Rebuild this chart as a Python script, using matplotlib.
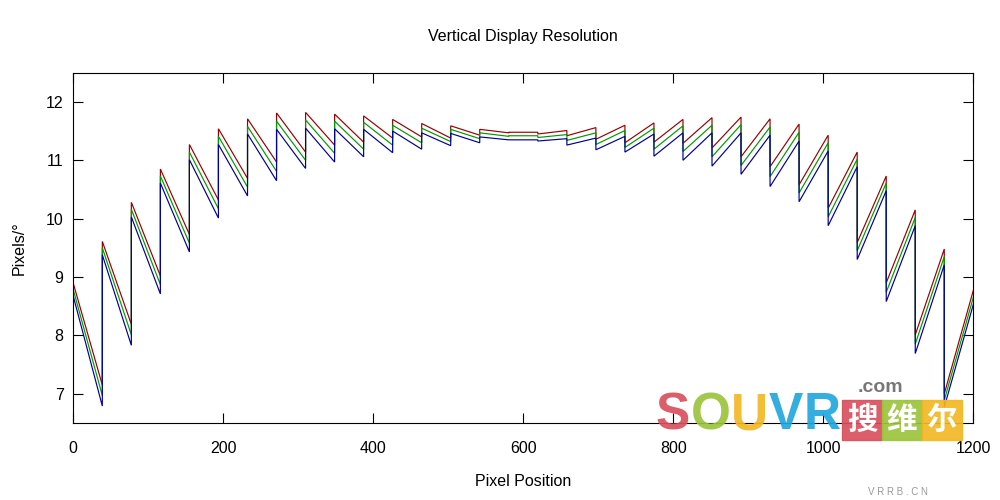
import matplotlib
matplotlib.use("Agg")
import matplotlib.pyplot as plt
from matplotlib.patches import Rectangle

# ---- data ----
edges = [0, 38.7, 77.4, 116.1, 154.8, 193.5, 232.3, 271.0, 309.7, 348.4, 387.1,
         425.8, 464.5, 503.2, 541.9, 580.6, 619.4, 658.1, 696.8, 735.5, 774.2,
         812.9, 851.6, 890.3, 929.0, 967.7, 1006.5, 1045.2, 1083.9, 1122.6, 1161.3, 1200]

red_start = [8.89, 9.61, 10.28, 10.85, 11.27, 11.54, 11.71, 11.81, 11.82, 11.79, 11.76,
             11.70, 11.63, 11.59, 11.53, 11.48, 11.45, 11.42, 11.36, 11.30, 11.31,
             11.29, 11.21, 11.06, 10.89, 10.58, 10.18, 9.59, 8.90, 8.01, 7.00]
red_end = [7.15, 8.19, 9.02, 9.73, 10.32, 10.69, 10.97, 11.14, 11.26, 11.31, 11.38,
           11.40, 11.38, 11.43, 11.47, 11.48, 11.51, 11.56, 11.60, 11.64, 11.70,
           11.73, 11.74, 11.71, 11.62, 11.43, 11.14, 10.73, 10.15, 9.48, 8.77]

green_start = [8.78, 9.50, 10.16, 10.73, 11.14, 11.41, 11.58, 11.67, 11.69, 11.67, 11.65,
               11.60, 11.55, 11.53, 11.47, 11.42, 11.39, 11.34, 11.27, 11.22, 11.19,
               11.15, 11.06, 10.91, 10.72, 10.44, 10.03, 9.45, 8.74, 7.85, 6.89]
green_end = [6.97, 8.01, 8.87, 9.58, 10.17, 10.54, 10.81, 11.00, 11.12, 11.19, 11.26,
             11.30, 11.32, 11.37, 11.41, 11.42, 11.44, 11.47, 11.51, 11.55, 11.59,
             11.60, 11.61, 11.57, 11.48, 11.30, 11.02, 10.61, 10.02, 9.35, 8.65]

blue_start = [8.67, 9.38, 10.03, 10.61, 11.01, 11.27, 11.45, 11.53, 11.55, 11.54, 11.53,
              11.50, 11.47, 11.46, 11.40, 11.35, 11.33, 11.26, 11.18, 11.14, 11.07,
              11.00, 10.90, 10.76, 10.55, 10.29, 9.88, 9.30, 8.58, 7.69, 6.77]
blue_end = [6.79, 7.83, 8.71, 9.43, 10.01, 10.39, 10.65, 10.86, 10.97, 11.06, 11.13,
            11.19, 11.25, 11.30, 11.35, 11.35, 11.37, 11.38, 11.41, 11.45, 11.47,
            11.47, 11.47, 11.43, 11.33, 11.16, 10.89, 10.48, 9.88, 9.21, 8.53]

x_ticks = [0, 200, 400, 600, 800, 1000, 1200]
y_ticks = [7, 8, 9, 10, 11, 12]

title = "Vertical Display Resolution"
xlabel = "Pixel Position"
ylabel = "Pixels/°"

logo_letters = ["S", "O", "U", "V", "R"]
logo_colors = ['#d9505e', '#9bc43c', '#f2b824', '#22a7de', '#22a7de']
logo_cjk = ["搜", "维", "尔"]
logo_cjk_colors = ['#d9505e', '#9bc43c', '#f2b824']

# ---- plot ----
FONT = "Liberation Sans"
FS = 11.5
plt.rcParams['font.family'] = [FONT, 'DejaVu Sans']

fig = plt.figure(figsize=(10, 5), dpi=100)
ax = fig.add_axes([0.0733, 0.154, 0.9, 0.7006])


def polyline(starts, ends):
    xs, ys = [], []
    for i in range(len(starts)):
        xs += [edges[i], edges[i + 1]]
        ys += [starts[i], ends[i]]
    return xs, ys

for s, e, c in [(red_start, red_end, '#990000'),
                (green_start, green_end, '#009900'),
                (blue_start, blue_end, '#000099')]:
    xs, ys = polyline(s, e)
    ax.plot(xs, ys, color=c, lw=0.85, solid_joinstyle='miter')

ax.set_xlim(0, 1200)
ax.set_ylim(6.5, 12.5)
ax.set_xticks(x_ticks)
ax.set_yticks(y_ticks)
ax.tick_params(direction='in', length=7.5, width=0.8, top=True, right=True,
               labelsize=FS, color='black')
ax.tick_params(axis='x', pad=13)
ax.tick_params(axis='y', pad=7)
for sp in ax.spines.values():
    sp.set_linewidth(0.8)

ax.set_title(title, fontsize=FS, pad=22.5)
ax.set_xlabel(xlabel, fontsize=FS, labelpad=13)
ax.set_ylabel(ylabel, fontsize=FS, labelpad=14)

# ---- watermark (approximation of the SOUVR logo) ----
W, H = 1000.0, 500.0
fig.canvas.draw()
renderer = fig.canvas.get_renderer()

x_cursor = 656.0
for ch, col in zip(logo_letters, logo_colors):
    t = fig.text(x_cursor / W, 1 - 429 / H, ch, color=col, fontsize=37,
                 fontweight='bold', ha='left', va='baseline', alpha=0.92,
                 family=[FONT])
    bb = t.get_window_extent(renderer)
    x_cursor = bb.x1 + 0.5

fig.text(880 / W, 1 - 387 / H, ".com", color='#777777', fontsize=14,
         fontweight='bold', va='center', ha='center', family=[FONT])
for i, (ch, col) in enumerate(zip(logo_cjk, logo_cjk_colors)):
    x0 = 842 + 40 * i
    fig.patches.append(Rectangle((x0 / W, 1 - 440 / H), 40 / W, 40 / H,
                                 transform=fig.transFigure, color=col, alpha=0.92))
    fig.text((x0 + 20) / W, 1 - 420 / H, ch, color='white', fontsize=22,
             fontweight='bold', va='center', ha='center',
             family=['Noto Sans CJK SC', 'DejaVu Sans'])
fig.text(898 / W, 1 - 492 / H, "V R R B . C N", color='#999999', fontsize=7,
         va='center', ha='center')

fig.savefig("out.png", dpi=100)
